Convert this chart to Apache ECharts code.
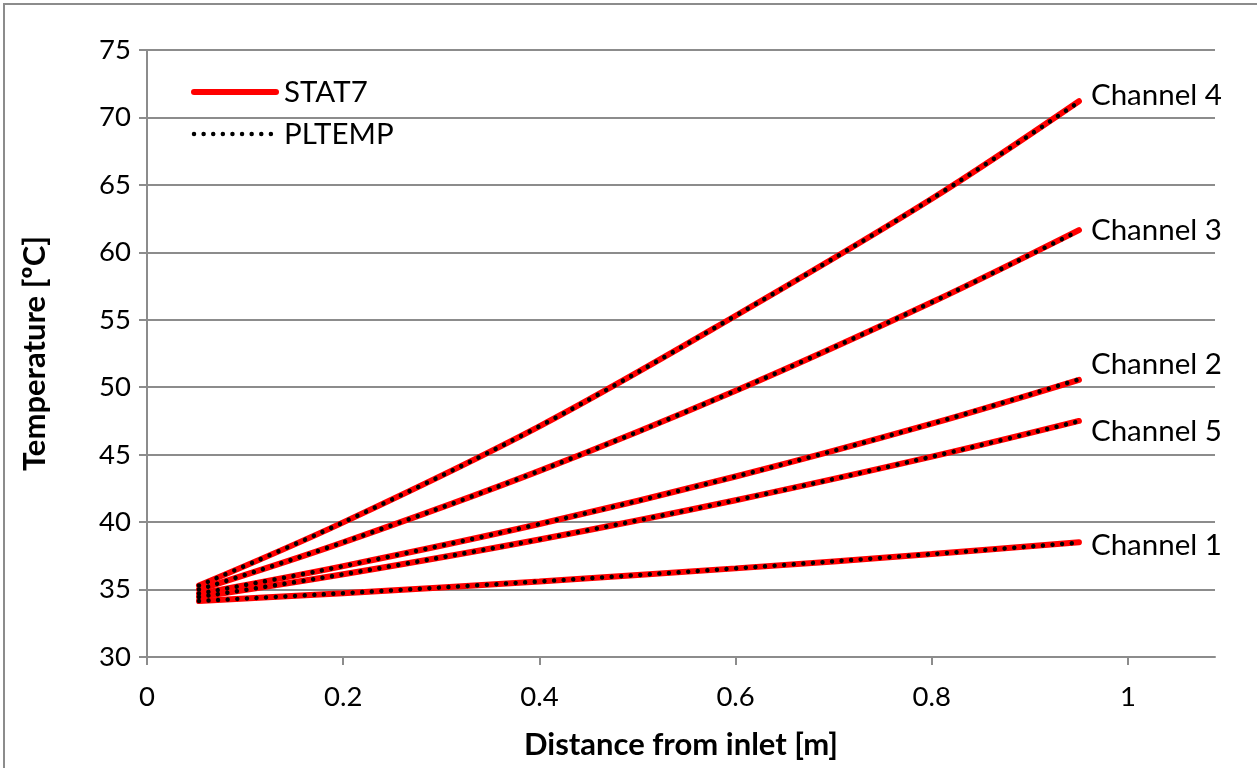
<!DOCTYPE html>
<html>
<head>
<meta charset="utf-8">
<script src="https://cdn.jsdelivr.net/npm/echarts@6/dist/echarts.min.js"></script>
<style>
html,body{margin:0;padding:0;background:#fff;}
#chart{width:1257px;height:768px;}
</style>
</head>
<body>
<div id="chart"></div>
<script>
// ---- data ----
const xPositions = [0.053, 0.2, 0.4, 0.6, 0.8, 0.95];
const channelNames = ['Channel 1', 'Channel 2', 'Channel 3', 'Channel 4', 'Channel 5'];
const stat7Channel1 = [34.15, 34.73, 35.60, 36.57, 37.63, 38.50];
const stat7Channel2 = [34.70, 36.74, 39.86, 43.38, 47.30, 50.55];
const stat7Channel3 = [35.00, 38.50, 43.80, 49.74, 56.30, 61.65];
const stat7Channel4 = [35.30, 39.98, 47.10, 55.30, 63.97, 71.20];
const stat7Channel5 = [34.45, 36.13, 38.71, 41.62, 44.85, 47.50];
const pltempChannel1 = [34.15, 34.73, 35.60, 36.57, 37.63, 38.48];
const pltempChannel2 = [34.70, 36.74, 39.86, 43.38, 47.30, 50.58];
const pltempChannel3 = [35.00, 38.50, 43.80, 49.74, 56.30, 61.60];
const pltempChannel4 = [35.30, 39.98, 47.10, 55.30, 63.97, 71.15];
const pltempChannel5 = [34.45, 36.13, 38.71, 41.62, 44.85, 47.48];
const xTicks = [0, 0.2, 0.4, 0.6, 0.8, 1];
const yTicks = [30, 35, 40, 45, 50, 55, 60, 65, 70, 75];
const legendNames = ['STAT7', 'PLTEMP'];

// ---- chart ----
const stat7 = [stat7Channel1, stat7Channel2, stat7Channel3, stat7Channel4, stat7Channel5];
const pltemp = [pltempChannel1, pltempChannel2, pltempChannel3, pltempChannel4, pltempChannel5];
const labelDy = [3, -15, 0, -6, 11];
const FONT = 'Lato, "Open Sans", sans-serif';
const redStyle = { color: '#ff0000', width: 6, cap: 'round' };
const dotStyle = { color: '#000', width: 4.5, type: [0.01, 9.6], cap: 'round' };

function pairs(arr) { return arr.map((v, i) => [xPositions[i], v]); }

const series = [];
stat7.forEach((arr, i) => {
  series.push({
    name: legendNames[0], type: 'line', data: pairs(arr), symbol: 'none', smooth: 0.35,
    lineStyle: redStyle, itemStyle: { color: '#ff0000' },
    z: 2, animation: false,
    endLabel: {
      show: true, formatter: channelNames[i], color: '#000', fontFamily: FONT, fontSize: 29.5,
      distance: 12, offset: [0, labelDy[i]]
    }
  });
});
pltemp.forEach((arr) => {
  series.push({
    name: legendNames[1], type: 'line', data: pairs(arr), symbol: 'none', smooth: 0.35,
    lineStyle: dotStyle, itemStyle: { color: '#000' },
    z: 3, animation: false
  });
});

const chart = echarts.init(document.getElementById('chart'));
chart.setOption({
  animation: false,
  backgroundColor: '#fff',
  graphic: [{
    type: 'rect', shape: { x: 4, y: 4, width: 1270, height: 780 },
    style: { fill: 'none', stroke: '#8c8c8c', lineWidth: 2 }, silent: true, z: -1
  }],
  grid: { left: 147, right: 42, top: 50, bottom: 111 },
  legend: {
    data: [
      { name: legendNames[0], itemStyle: { opacity: 0 }, lineStyle: redStyle },
      { name: legendNames[1], itemStyle: { opacity: 0 }, lineStyle: dotStyle }
    ],
    orient: 'vertical', left: 186, top: 72,
    itemWidth: 82, itemHeight: 14, itemGap: 12,
    textStyle: { fontFamily: FONT, fontSize: 29.5, lineHeight: 30, color: '#000', padding: [0, 0, 0, 3] }
  },
  xAxis: {
    type: 'value', min: 0, max: 1.0887,
    name: 'Distance from inlet [m]', nameLocation: 'middle', nameGap: 72,
    nameTextStyle: { fontFamily: FONT, fontSize: 31, fontWeight: 'bold', color: '#000' },
    axisLine: { show: true, lineStyle: { color: '#8c8c8c', width: 2 } },
    axisTick: { show: true, length: 8, inside: false, customValues: xTicks, lineStyle: { color: '#8c8c8c', width: 2 } },
    axisLabel: { customValues: xTicks, fontFamily: FONT, fontSize: 27.5, color: '#000', margin: 26,
      formatter: v => String(v) },
    splitLine: { show: false }
  },
  yAxis: {
    type: 'value', min: 30, max: 75, interval: 5,
    name: 'Temperature [ºC]', nameLocation: 'middle', nameGap: 97, nameRotate: 90,
    nameTextStyle: { fontFamily: FONT, fontSize: 31, fontWeight: 'bold', color: '#000' },
    axisLine: { show: true, lineStyle: { color: '#8c8c8c', width: 2 } },
    axisTick: { show: true, length: 8, lineStyle: { color: '#8c8c8c', width: 2 } },
    axisLabel: { customValues: yTicks, fontFamily: FONT, fontSize: 27.5, color: '#000', margin: 16 },
    splitLine: { show: true, lineStyle: { color: '#8c8c8c', width: 2 } }
  },
  series: series
});
</script>
</body>
</html>
